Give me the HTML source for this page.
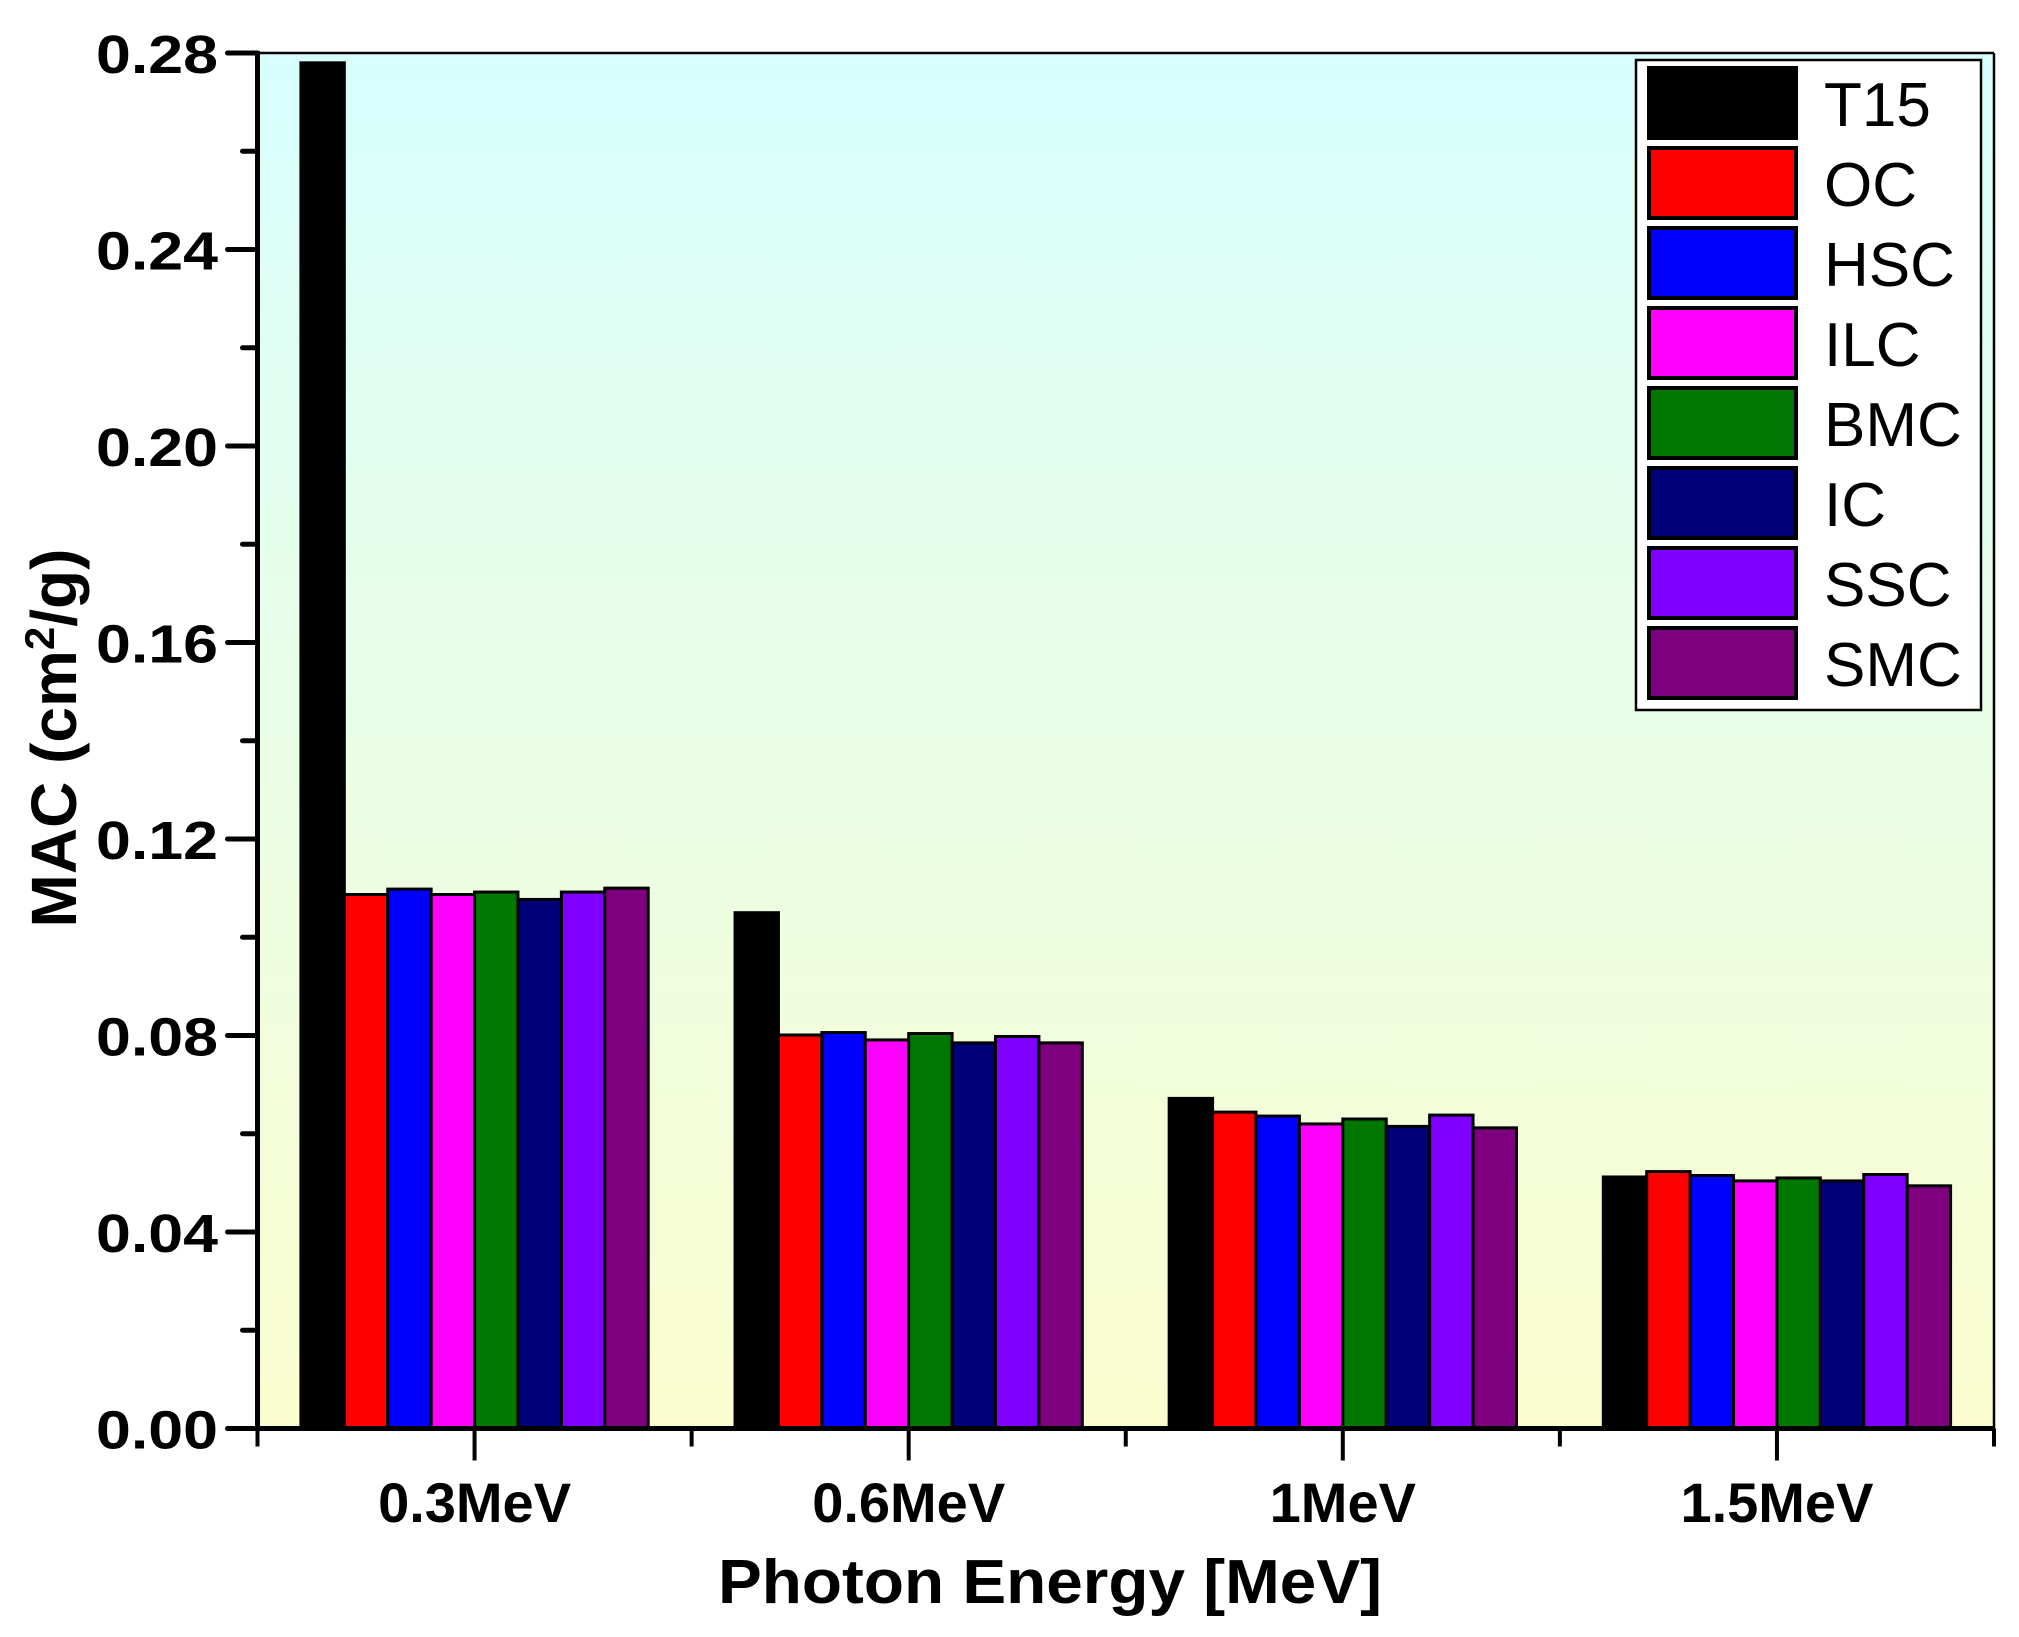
<!DOCTYPE html>
<html><head><meta charset="utf-8"><style>
html,body{margin:0;padding:0;background:#fff}
svg{display:block}
text{font-family:"Liberation Sans",Arial,sans-serif}
</style></head><body>
<svg id="chart" width="2019" height="1637" viewBox="0 0 2019 1637" xmlns="http://www.w3.org/2000/svg">
<defs>
<linearGradient id="bg" x1="0" y1="0" x2="0" y2="1">
<stop offset="0" stop-color="#d8fefd"/>
<stop offset="1" stop-color="#fbfdcf"/>
</linearGradient>
</defs>
<rect x="257.5" y="53" width="1736.5" height="1375.5" fill="url(#bg)"/>
<g id="bars"></g>
<g id="axes"></g>
<g id="legend"></g>
<text x="1050" y="1603" font-size="62" font-weight="bold" text-anchor="middle" textLength="664" lengthAdjust="spacingAndGlyphs">Photon Energy [MeV]</text>
<text transform="translate(76,738) rotate(-90)" font-size="64" font-weight="bold" text-anchor="middle">MAC (cm<tspan dy="-22" font-size="42">2</tspan><tspan dy="22">/g)</tspan></text>
</svg>
<script>
const categories = ["0.3MeV", "0.6MeV", "1MeV", "1.5MeV"];
const seriesNames = ["T15", "OC", "HSC", "ILC", "BMC", "IC", "SSC", "SMC"];
const seriesColors = ["#000000", "#ff0000", "#0000ff", "#ff00ff", "#007800", "#000078", "#7f00ff", "#7f007f"];
const T15 = [0.278, 0.105, 0.0672, 0.0512];
const OC  = [0.1087, 0.0801, 0.0644, 0.0523];
const HSC = [0.1098, 0.0806, 0.0636, 0.0515];
const ILC = [0.1087, 0.0791, 0.0620, 0.0504];
const BMC = [0.1092, 0.0804, 0.0630, 0.0510];
const IC  = [0.1077, 0.0785, 0.0615, 0.0504];
const SSC = [0.1092, 0.0798, 0.0638, 0.0517];
const SMC = [0.1100, 0.0785, 0.0612, 0.0494];
const yTicks = [0, 0.04, 0.08, 0.12, 0.16, 0.20, 0.24, 0.28];
const yTickLabels = ["0.00", "0.04", "0.08", "0.12", "0.16", "0.20", "0.24", "0.28"];

const seriesData = [T15, OC, HSC, ILC, BMC, IC, SSC, SMC];
const NS = "http://www.w3.org/2000/svg";
const L = 257.5, R = 1994, T = 53, B = 1428.5, YMAX = 0.28;
const groupW = (R - L) / categories.length;
function yScale(v) { return B - (v / YMAX) * (B - T); }
function xCenter(i) { return L + groupW * (i + 0.5); }
const barW = groupW * 0.8 / seriesNames.length;
function mk(tag, attrs, parent) {
  const el = document.createElementNS(NS, tag);
  for (const k in attrs) el.setAttribute(k, attrs[k]);
  parent.appendChild(el);
  return el;
}
const gb = document.getElementById("bars");
categories.forEach((c, i) => {
  seriesData.forEach((arr, s) => {
    const x = xCenter(i) - groupW * 0.4 + s * barW;
    const y = yScale(arr[i]);
    const r = mk("rect", {x: x, y: y, width: barW, height: B - y, fill: seriesColors[s], stroke: "#000", "stroke-width": 3}, gb);
    
    
  });
});
const ga = document.getElementById("axes");
let e;
e = mk("line", {x1: L, y1: T, x2: R, y2: T, stroke: "#000", "stroke-width": 2.5}, ga);


e = mk("line", {x1: R, y1: T, x2: R, y2: B, stroke: "#000", "stroke-width": 2.5}, ga);


e = mk("line", {x1: L, y1: T - 2, x2: L, y2: B + 2, stroke: "#000", "stroke-width": 5}, ga);


e = mk("line", {x1: L - 30, y1: B, x2: R, y2: B, stroke: "#000", "stroke-width": 5}, ga);


yTicks.forEach((v, i) => {
  const y = yScale(v);
  const t = mk("line", {x1: L - 30, y1: y, x2: L, y2: y, stroke: "#000", "stroke-width": 5, "stroke-linecap": "round"}, ga);
  
  
  const lb = mk("text", {x: 218, y: y + 20, "font-size": 54, "font-weight": "bold", "text-anchor": "end", textLength: 122, lengthAdjust: "spacingAndGlyphs"}, ga);
  lb.textContent = yTickLabels[i];
  
  
  if (i < yTicks.length - 1) {
    const ym = yScale(v + 0.02);
    const m = mk("line", {x1: L - 15, y1: ym, x2: L, y2: ym, stroke: "#000", "stroke-width": 5, "stroke-linecap": "round"}, ga);
    
    
  }
});
for (let i = 0; i <= categories.length; i++) {
  const x = L + groupW * i;
  const m = mk("line", {x1: x, y1: B, x2: x, y2: B + 18, stroke: "#000", "stroke-width": 4}, ga);
  
  
}
categories.forEach((c, i) => {
  const x = xCenter(i);
  const t = mk("line", {x1: x, y1: B, x2: x, y2: B + 32, stroke: "#000", "stroke-width": 4}, ga);
  
  
  const lb = mk("text", {x: x, y: 1522, "font-size": 56, "font-weight": "bold", "text-anchor": "middle"}, ga);
  lb.textContent = c;
  
  
});
const gl = document.getElementById("legend");
const lbox = mk("rect", {x: 1636, y: 60, width: 345, height: 650, fill: "#fff", stroke: "#000", "stroke-width": 2.5}, gl);


seriesNames.forEach((n, s) => {
  const y = 68 + s * 80;
  const sw = mk("rect", {x: 1649, y: y, width: 147, height: 70, fill: seriesColors[s], stroke: "#000", "stroke-width": 4}, gl);
  
  
  const tx = mk("text", {x: 1824, y: y + 58, "font-size": 62}, gl);
  tx.textContent = n;
  
  
});
</script>
</body></html>
